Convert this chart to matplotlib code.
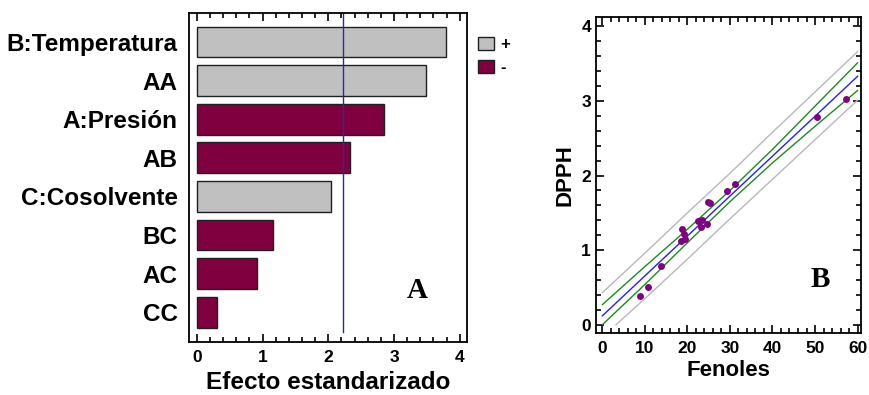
import numpy as np
import matplotlib.pyplot as plt
from matplotlib.patches import Patch
from matplotlib.ticker import MultipleLocator

plt.rcParams['font.family'] = ['Liberation Sans', 'DejaVu Sans']
plt.rcParams['font.weight'] = 'bold'

# Pareto chart (panel A)
factors = ['B:Temperatura', 'AA', 'A:Presión', 'AB', 'C:Cosolvente', 'BC', 'AC', 'CC']
effects = [3.79, 3.49, 2.85, 2.33, 2.04, 1.16, 0.92, 0.30]
signs = ['+', '+', '-', '-', '+', '-', '-', '-']
t_crit = 2.228

# DPPH vs phenols (panel B)
fenoles = [8.8, 10.7, 13.9, 18.6, 18.8, 19.2, 19.5, 22.5, 23.4, 23.2, 24.5,
           24.8, 25.3, 29.2, 31.1, 50.5, 57.2]
dpph = [0.39, 0.50, 0.785, 1.12, 1.29, 1.22, 1.15, 1.39, 1.40, 1.31, 1.35,
        1.65, 1.63, 1.79, 1.89, 2.78, 3.02]

x_grid = [0, 10, 20, 30, 40, 50, 60]
fit_line = [0.12, 0.655, 1.19, 1.725, 2.26, 2.795, 3.33]
conf_up = [0.27, 0.78, 1.28, 1.80, 2.35, 2.93, 3.51]
conf_lo = [0.00, 0.54, 1.10, 1.65, 2.17, 2.66, 3.14]
pred_up = [0.43, 0.96, 1.50, 2.03, 2.58, 3.12, 3.66]
x_pred_lo = [3.2, 10, 20, 30, 40, 50, 60]
pred_lo = [0.00, 0.35, 0.88, 1.42, 1.95, 2.48, 3.01]

col_pos = '#c0c0c0'
col_neg = '#80003f'

fig = plt.figure(figsize=(8.7, 3.95), dpi=100)

# ---- panel A
ax1 = fig.add_axes([0.2172, 0.1342, 0.3195, 0.8329])
ypos = np.arange(len(factors))
colors = [col_pos if s == '+' else col_neg for s in signs]
ax1.barh(ypos, effects, height=0.8, color=colors, edgecolor='#202020', linewidth=1)
ax1.axvline(t_crit, ymin=0.03, ymax=1, color='#2a2aa0', lw=1)
ax1.set_ylim(7.77, -0.75)
ax1.set_xlim(-0.12, 4.11)
ax1.set_yticks(ypos)
ax1.set_yticklabels(factors, fontsize=17.5, fontweight='bold')
ax1.tick_params(axis='y', length=0, pad=8)
ax1.xaxis.set_major_locator(MultipleLocator(1))
ax1.xaxis.set_minor_locator(MultipleLocator(0.2))
ax1.tick_params(axis='x', which='both', direction='in', top=True, labelsize=12.5, pad=6)
ax1.tick_params(axis='x', which='major', length=6, width=1.2)
ax1.tick_params(axis='x', which='minor', length=3.5, width=1.2)
ax1.set_xlabel('Efecto estandarizado', fontsize=17.5, fontweight='bold', labelpad=4)
for s in ax1.spines.values():
    s.set_linewidth(1.3)
ax1.text(0.82, 0.158, 'A', transform=ax1.transAxes, ha='center', va='center',
         fontsize=21, fontweight='bold', family='Liberation Serif')

handles = [Patch(facecolor=col_pos, edgecolor='#202020', label='+'),
           Patch(facecolor=col_neg, edgecolor='#202020', label='-')]
fig.legend(handles=handles, loc='upper left', bbox_to_anchor=(0.549, 0.907),
           frameon=False, handlelength=1.0, handleheight=0.85, labelspacing=0.45,
           handletextpad=0.35, borderaxespad=0, borderpad=0,
           prop={'size': 12, 'weight': 'bold'})

# ---- panel B
ax2 = fig.add_axes([0.685, 0.157, 0.3046, 0.799])
ax2.plot(x_grid, pred_up, color='#b8b8b8', lw=1)
ax2.plot(x_pred_lo, pred_lo, color='#b8b8b8', lw=1)
ax2.plot(x_grid, conf_up, color='#1a8c1a', lw=1)
ax2.plot(x_grid, conf_lo, color='#1a8c1a', lw=1)
ax2.plot(x_grid, fit_line, color='#2020ff', lw=1)
ax2.plot(fenoles, dpph, 'o', color='#800080', ms=5, mec='none')
ax2.set_xlim(-1.5, 60.8)
ax2.set_ylim(-0.11, 4.12)
ax2.xaxis.set_major_locator(MultipleLocator(10))
ax2.xaxis.set_minor_locator(MultipleLocator(2))
ax2.yaxis.set_major_locator(MultipleLocator(1))
ax2.yaxis.set_minor_locator(MultipleLocator(0.2))
ax2.tick_params(which='both', direction='in', top=True, right=True, labelsize=12.5, width=1.2)
ax2.tick_params(which='major', length=6)
ax2.tick_params(which='minor', length=3.5)
ax2.tick_params(axis='x', pad=6)
ax2.set_xlabel('Fenoles', fontsize=16, fontweight='bold', labelpad=3)
ax2.set_ylabel('DPPH', fontsize=16, fontweight='bold', labelpad=4)
for s in ax2.spines.values():
    s.set_linewidth(1.3)
ax2.text(0.848, 0.171, 'B', transform=ax2.transAxes, ha='center', va='center',
         fontsize=21, fontweight='bold', family='Liberation Serif')

fig.savefig('out.png', dpi=100)
